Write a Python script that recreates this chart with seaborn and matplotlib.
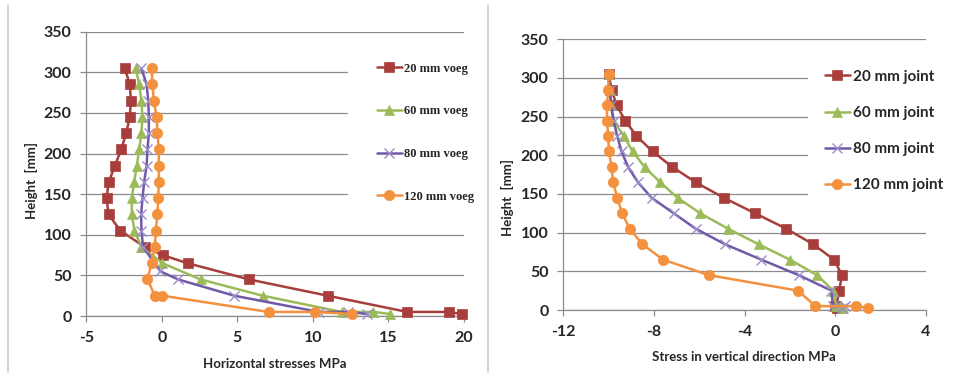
import matplotlib
matplotlib.use("Agg")
import matplotlib.pyplot as plt
from matplotlib.lines import Line2D
import pandas as pd
import seaborn as sns

# heights along the joint [mm]
heights = [305, 285, 265, 245, 225, 205, 185, 165, 145, 125, 105, 85, 65, 45, 25, 5, 5, 2.5]
heights_20_hor = [305, 285, 265, 245, 225, 205, 185, 165, 145, 125, 105, 85, 75, 65, 45, 25, 5, 5, 2.5]
heights_80_hor = [305, 285, 265, 245, 225, 205, 185, 165, 145, 125, 105, 85, 55, 45, 25, 5, 5, 2.5]
heights_120_hor = [305, 285, 265, 245, 225, 205, 185, 165, 145, 125, 105, 85, 65, 45, 25, 25, 5, 5, 2.5]

# horizontal stresses [MPa]
hor_20 = [-2.45, -2.12, -2.05, -2.12, -2.36, -2.69, -3.11, -3.51, -3.66, -3.53, -2.74, -1.13,
          0.05, 1.70, 5.78, 10.97, 16.25, 19.0, 19.85]
hor_60 = [-1.72, -1.5, -1.35, -1.29, -1.35, -1.5, -1.66, -1.83, -1.99, -1.99, -1.81, -1.35,
          0.04, 2.56, 6.67, 11.9, 14.0, 15.1]
hor_80 = [-1.35, -1.01, -0.9, -0.86, -0.86, -0.95, -1.01, -1.17, -1.28, -1.37, -1.35, -1.24,
          -0.1, 1.08, 4.79, 10.4, 12.3, 13.6]
hor_120 = [-0.68, -0.62, -0.53, -0.35, -0.29, -0.2, -0.2, -0.2, -0.24, -0.29, -0.4, -0.46,
           -0.68, -0.95, -0.46, 0.04, 7.06, 10.13, 12.6]

# vertical stresses [MPa]
ver_20 = [-9.99, -9.87, -9.65, -9.27, -8.77, -8.06, -7.19, -6.15, -4.91, -3.53, -2.15, -0.97,
          -0.04, 0.3, 0.18, 0.05, 0.0, 0.1]
ver_60 = [-10.0, -9.95, -9.9, -9.8, -9.33, -8.94, -8.41, -7.72, -6.95, -5.95, -4.72, -3.38,
          -1.99, -0.79, -0.08, 0.05, 0.2, 0.35]
ver_80 = [-10.0, -9.95, -9.88, -9.78, -9.62, -9.43, -9.14, -8.7, -8.1, -7.12, -6.15, -4.86,
          -3.25, -1.6, -0.16, -0.1, 0.45, 0.3]
ver_120 = [-10.0, -10.02, -10.07, -10.07, -10.02, -9.98, -9.87, -9.8, -9.62, -9.4, -9.07, -8.51,
           -7.59, -5.56, -1.63, -0.87, 0.94, 1.47]

labels_left = ["20 mm voeg", "60 mm voeg", "80 mm voeg", "120 mm voeg"]
labels_right = ["20 mm joint", "60 mm joint", "80 mm joint", "120 mm joint"]

colors = ["#A83E3B", "#9BBB59", "#7059A8", "#F4913F"]
markers = ["s", "^", "x", "o"]
msizes = [7, 7, 7, 7.5]

sns.set_style("white")
plt.rcParams["font.family"] = ["Lato", "DejaVu Sans"]
plt.rcParams["axes.unicode_minus"] = False

fig = plt.figure(figsize=(9.6, 3.74), dpi=100)
ax1 = fig.add_axes([86.3 / 960, 1 - 316 / 374, 377.7 / 960, 284.3 / 374])
ax2 = fig.add_axes([563.3 / 960, 1 - 310 / 374, 362.4 / 960, 270.7 / 374])

left_series = [(hor_20, heights_20_hor), (hor_60, heights), (hor_80, heights_80_hor), (hor_120, heights_120_hor)]
right_series = [(ver_20, heights), (ver_60, heights), (ver_80, heights), (ver_120, heights)]


def draw(ax, series, labels):
    for (xs, ys), lab, c, m, ms in zip(series, labels, colors, markers, msizes):
        df = pd.DataFrame({"stress": xs, "height": ys})
        mec = c if m != "x" else "#9C8CC8"
        sns.lineplot(data=df, x="stress", y="height", sort=False, estimator=None, ax=ax,
                     color=c, marker=m, markersize=ms, markeredgecolor=mec,
                     markeredgewidth=1.0 if m == "x" else 0.5, linewidth=1.8,
                     label=lab, clip_on=False, zorder=3)


draw(ax1, left_series, labels_left)
draw(ax2, right_series, labels_right)

grid_c = "#8C8C8C"
for ax in (ax1, ax2):
    ax.set_ylim(0, 350)
    ax.set_yticks(range(0, 351, 50))
    ax.yaxis.grid(True, color=grid_c, linewidth=0.9)
    ax.xaxis.grid(False)
    ax.set_axisbelow(True)
    for s in ("top", "right"):
        ax.spines[s].set_visible(False)
    for s in ("left", "bottom"):
        ax.spines[s].set_color(grid_c)
        ax.spines[s].set_linewidth(0.9)
    ax.tick_params(axis="both", direction="out", length=4.5, width=0.9, color=grid_c,
                   labelsize=11.5, pad=6, left=True, bottom=True)
    for t in ax.get_xticklabels() + ax.get_yticklabels():
        t.set_fontweight("bold")

ax1.set_xlim(-5, 20)
ax1.set_xticks(range(-5, 21, 5))
ax2.set_xlim(-12, 4)
ax2.set_xticks(range(-12, 5, 4))

ax1.set_xlabel("Horizontal stresses MPa", fontsize=9.5, fontweight="bold", va="center")
ax1.set_ylabel("Height  [mm]", fontsize=9.5, fontweight="bold", va="center")
ax1.xaxis.set_label_coords(0.5, -0.169)
ax1.yaxis.set_label_coords(-0.144, 0.478)

ax2.set_xlabel("Stress in vertical direction MPa", fontsize=9.5, fontweight="bold", va="center")
ax2.set_ylabel("Height  [mm]", fontsize=9.5, fontweight="bold", va="center")
ax2.xaxis.set_label_coords(0.498, -0.172)
ax2.yaxis.set_label_coords(-0.153, 0.417)

leg1 = ax1.legend(loc="upper left", bbox_to_anchor=(348 / 960, 1 - 34 / 374),
                  bbox_transform=fig.transFigure, frameon=True, fancybox=False,
                  prop={"family": "Liberation Serif", "weight": "bold", "size": 9},
                  borderpad=2.3, labelspacing=2.45, handlelength=2.0, handletextpad=0.15,
                  borderaxespad=0)
leg1.get_frame().set_facecolor("white")
leg1.get_frame().set_edgecolor("none")
leg1.get_frame().set_alpha(1)

leg2 = ax2.legend(loc="upper left", bbox_to_anchor=(808 / 960, 1 - 53 / 374),
                  bbox_transform=fig.transFigure, frameon=True, fancybox=False,
                  prop={"weight": "bold", "size": 11},
                  borderpad=1.1, labelspacing=1.45, handlelength=1.65, handletextpad=0.2,
                  borderaxespad=0)
leg2.get_frame().set_facecolor("white")
leg2.get_frame().set_edgecolor("none")
leg2.get_frame().set_alpha(1)

# panel separators
for xp in (8, 488):
    fig.add_artist(Line2D([xp / 960, xp / 960], [1 - 372 / 374, 1 - 5 / 374],
                          color="#D0D0D0", linewidth=1.2))

fig.savefig("out.png", dpi=100)
